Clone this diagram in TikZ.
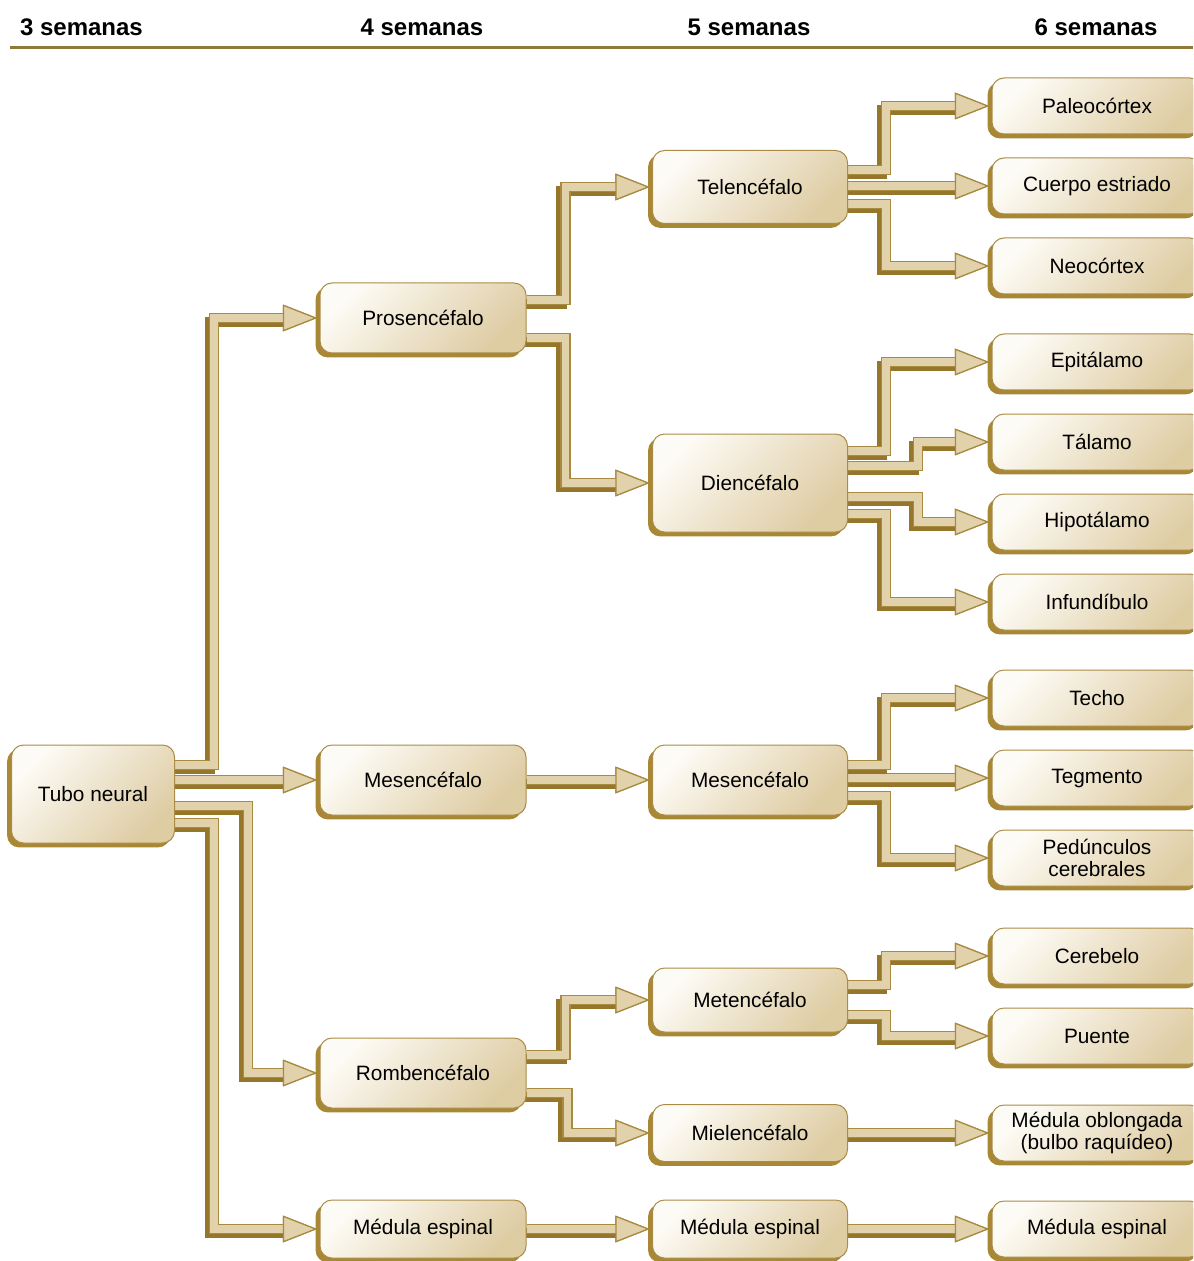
\documentclass[tikz,border=0pt]{standalone}
\usepackage{fontspec}
\setmainfont{Liberation Sans}
\usetikzlibrary{positioning,shapes,shadows,backgrounds,decorations.markings}
\definecolor{boxlight}{RGB}{253,251,245}
\definecolor{boxdark}{RGB}{222,204,163}
\definecolor{boxline}{RGB}{170,140,70}
\definecolor{boxshade}{RGB}{168,136,52}
\definecolor{pipefill}{RGB}{226,210,172}
\definecolor{pipeline}{RGB}{168,138,64}
\definecolor{pipeshade}{RGB}{150,118,42}
\definecolor{rulecolor}{RGB}{145,122,55}
\tikzset{
box/.style={rectangle, rounded corners=6pt, draw=boxline, line width=0.5pt, top color=boxlight, bottom color=boxdark, shading angle=45, align=center, font=\fontsize{10.4}{10.8}\selectfont, inner sep=2pt, drop shadow={shadow xshift=-2.2pt, shadow yshift=-2.2pt, fill=boxshade, opacity=1}},
stem/.style={box, minimum width=81.5pt, minimum height=49pt},
vesicle/.style={box, minimum width=103pt, minimum height=35pt},
segment/.style={box, minimum width=97.5pt, minimum height=35pt},
leaf/.style={box, minimum width=105pt, minimum height=28pt},
weekhead/.style={font=\bfseries\fontsize{12}{14}\selectfont, inner sep=0pt},
pipetip/.style={decorate, decoration={markings, mark=at position 1 with {\filldraw[#1, line width=0.6pt] (-18pt,-6.3pt) -- (-2pt,0pt) -- (-18pt,6.3pt) -- cycle;}}},
pipe/.style={draw=pipefill, line width=3.8pt, shorten >=15pt,
  preaction={draw=pipeshade, line width=5.4pt, shorten >=15pt, transform canvas={shift={(-2pt,-2pt)}}},
  preaction={pipetip={fill=pipeshade, draw=pipeshade}, transform canvas={shift={(-2pt,-2pt)}}},
  preaction={draw=pipeline, line width=5.4pt, shorten >=15pt},
  postaction={pipetip={fill=pipefill, draw=pipeline}}}
}
\begin{document}
\begin{tikzpicture}[x=0.5pt, y=-0.5pt, node distance=40pt]
\useasboundingbox (0,0) rectangle (1193,1261);
\clip (0,0) rectangle (1193,1261);

% weeks across the top
\node[weekhead] (w3) at (81.5,27) {3 semanas};
\node[weekhead] (w4) at (422,27) {4 semanas};
\node[weekhead] (w5) at (749,27) {5 semanas};
\node[weekhead] (w6) at (1096,27) {6 semanas};
\draw[rulecolor, line width=1.5pt] (10,48) -- (1193,48);

% 3 and 4 weeks
\node[stem] (tubo) at (93,794) {Tubo neural};
\node[vesicle] (pros) at (423,318) {Prosencéfalo};
\node[vesicle] (mes2) at (423,780) {Mesencéfalo};
\node[vesicle] (romb) at (423,1073) {Rombencéfalo};
\node[vesicle, minimum height=29pt] (med2) at (423,1229) {Médula espinal};

% 5 weeks
\node[segment, minimum height=36.5pt] (tel) at (750,187) {Telencéfalo};
\node[segment, minimum height=49pt] (dien) at (750,483) {Diencéfalo};
\node[segment] (mes3) at (750,780) {Mesencéfalo};
\node[segment, minimum height=32pt] (met) at (750,1000) {Metencéfalo};
\node[segment, minimum height=28.5pt] (miel) at (750,1133) {Mielencéfalo};
\node[segment, minimum height=29pt] (med3) at (750,1229) {Médula espinal};

% 6 weeks
\node[leaf] (paleo) at (1097,106) {Paleocórtex};
\node[leaf, below of=paleo] (cuerpo) {Cuerpo estriado};
\node[leaf, below of=cuerpo] (neo) {Neocórtex};
\node[leaf] (epi) at (1097,362) {Epitálamo};
\node[leaf, below of=epi] (tal) {Tálamo};
\node[leaf, below of=tal] (hipo) {Hipotálamo};
\node[leaf, below of=hipo] (infu) {Infundíbulo};
\node[leaf] (techo) at (1097,698) {Techo};
\node[leaf, below of=techo] (teg) {Tegmento};
\node[leaf, below of=teg] (ped) {Pedúnculos\\cerebrales};
\node[leaf] (cereb) at (1097,956) {Cerebelo};
\node[leaf, below of=cereb] (puente) {Puente};
\node[leaf] (oblong) at (1097,1133) {Médula oblongada\\(bulbo raquídeo)};
\node[leaf] (med4) at (1097,1229) {Médula espinal};

% pipes behind the boxes
\begin{scope}[on background layer]
\foreach \a/\b in {tubo/mes2, mes2/mes3, tel/cuerpo, mes3/teg, miel/oblong, med2/med3, med3/med4}
  \draw[pipe] (\a.east |- \b.west) -- (\b.west);

\foreach \a/\dy/\run/\b in {tubo/14.5/39/pros, tubo/-6/73/romb, tubo/-14.5/39/med2,
    pros/9/39/tel, pros/-10/39/dien, romb/9/39/met, romb/-10/41/miel,
    tel/8.5/38/paleo, tel/-8.5/38/neo,
    dien/16/38/epi, dien/8.5/70/tal, dien/-7/70/hipo, dien/-15.5/38/infu,
    mes3/7.5/38/techo, mes3/-8/38/ped, met/7.5/38/cereb, met/-7.5/38/puente}
  \draw[pipe] ([yshift=\dy pt]\a.east) -- ++(\run,0) |- (\b.west);
\end{scope}

\end{tikzpicture}
\end{document}
